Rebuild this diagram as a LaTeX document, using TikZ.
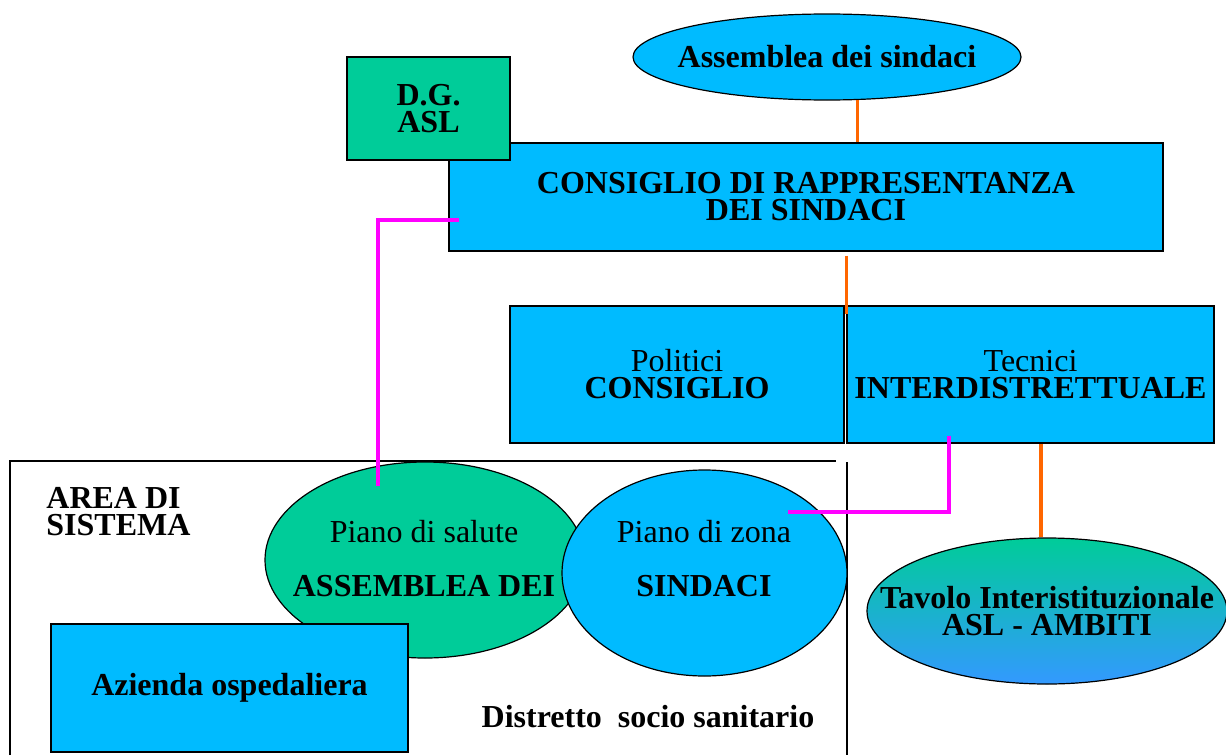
\documentclass[tikz,border=0pt]{standalone}
\usepackage{fontspec}
\setmainfont{Liberation Serif}
\usetikzlibrary{shapes.geometric}
\definecolor{boxcyan}{RGB}{0,187,255}
\definecolor{boxgreen}{RGB}{0,204,153}
\definecolor{tavblue}{RGB}{51,153,255}
\definecolor{linkpink}{RGB}{255,0,255}
\definecolor{linkorange}{RGB}{255,102,0}

\begin{document}
\begin{tikzpicture}
    [x=0.5pt,y=-0.5pt,
     txt/.style={font=\fontsize{16}{13.5}\selectfont\bfseries,align=center,inner sep=0pt},
     plain/.style={font=\fontsize{16}{13.5}\selectfont,align=center,inner sep=0pt},
     box/.style={draw,line width=0.6pt,fill=boxcyan,inner sep=0pt},
     oval/.style={draw,ellipse,line width=0.6pt,fill=boxcyan,inner sep=0pt},
     pinkline/.style={linkpink,line width=1.6pt},
     orangeline/.style={linkorange,line width=1.6pt}]
    \useasboundingbox (0,0) rectangle (1226,755);
    % top part
    \node[oval,minimum width=194pt,minimum height=43pt,
          label={[txt]center:Assemblea dei sindaci}] (asm) at (827,57) {};
    \node[box,txt,minimum width=357pt,minimum height=54pt] (cons) at (806,197)
        {CONSIGLIO DI RAPPRESENTANZA\\DEI SINDACI};
    \node[box,txt,fill=boxgreen,minimum width=81.5pt,minimum height=51.5pt] (dg) at (428.5,108.5)
        {D.G.\\ASL};
    \node[box,plain,minimum width=167pt,minimum height=68.5pt] (pol) at (677,374.5)
        {Politici\\\textbf{CONSIGLIO}};
    \node[box,plain,minimum width=183.5pt,minimum height=68.5pt] (tec) at (1030.5,374.5)
        {Tecnici\\\textbf{INTERDISTRETTUALE}};
    % area di sistema
    \draw[line width=0.6pt] (10,755) -- (10,461) -- (836,461);
    \draw[line width=0.6pt] (847,462) -- (847,755);
    \node[txt,align=left,anchor=north west] (area) at (46,487) {AREA DI\\SISTEMA};
    \node[oval,fill=boxgreen,minimum width=160pt,minimum height=98pt] (sal) at (425,560) {};
    \node[oval,minimum width=142.5pt,minimum height=103pt] (zon) at (704.5,573) {};
    \node[plain,anchor=north] (saltxt) at (424,520) {Piano di salute\\[13.5pt]\textbf{ASSEMBLEA DEI}};
    \node[plain,anchor=north] (zontxt) at (704,520) {Piano di zona\\[13.5pt]\textbf{SINDACI}};
    \node[box,txt,minimum width=178.5pt,minimum height=64pt] (azi) at (229.5,688)
        {Azienda ospedaliera};
    \node[txt,anchor=base] (dist) at (648,727) {Distretto\ \ socio sanitario};
    % tavolo
    \node[oval,top color=boxgreen,bottom color=tavblue,minimum width=180pt,minimum height=73pt,
          label={[txt]center:Tavolo Interistituzionale\\ASL - AMBITI}] (tav) at (1047,611) {};
    % links
    \draw[orangeline] (asm.-55) -- (asm.-55 |- cons.north);
    \draw[orangeline] ([yshift=-2pt]cons.south -| tec.north west) -- ([yshift=-4.5pt]tec.north west);
    \draw[orangeline] ([xshift=-3pt]tav.north) -- ([xshift=-3pt]tav.north |- tec.south);
    \draw[pinkline] ([xshift=5.5pt,yshift=-11.5pt]cons.west) -| ([xshift=-23.5pt,yshift=-12.5pt]sal.north);
    \draw[pinkline] ([xshift=-40.75pt,yshift=4pt]tec.south) |- ([xshift=-29.75pt,yshift=30.5pt]zon.east);
\end{tikzpicture}
\end{document}
